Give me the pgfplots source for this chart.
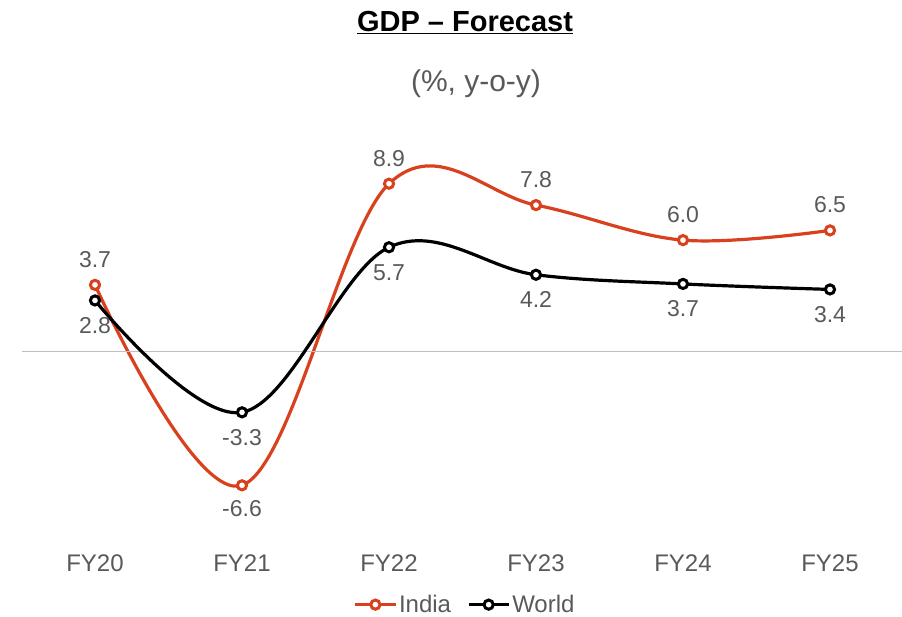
\documentclass[border=0pt]{standalone}
\usepackage{pgfplots}
\pgfplotsset{compat=1.18}
\usepackage{fontspec}
\setmainfont{Liberation Sans}
\definecolor{indiac}{HTML}{D9411E}
\definecolor{txtgray}{HTML}{595959}
\definecolor{zerogray}{HTML}{BFBFBF}
\tikzset{
  lbl/.style={font=\fontsize{23}{26}\selectfont, text=txtgray, anchor=center, inner sep=0pt},
  tlbl/.style={font=\fontsize{24}{27}\selectfont, text=txtgray, anchor=center, inner sep=0pt},
  indiastyle/.style={color=indiac, mark=*, mark size=4.6pt, mark options={fill=white, draw=indiac, line width=3pt}},
  worldstyle/.style={color=black, mark=*, mark size=4.6pt, mark options={fill=white, draw=black, line width=3pt}},
}
\pgfplotsset{
  base/.style={
    at={(21.5pt,67pt)}, anchor=south west,
    scale only axis, width=882pt, height=387.6pt,
    xmin=-0.5, xmax=5.5,
    axis lines=none, xtick=\empty, ytick=\empty, clip=false,
    every axis plot/.append style={line width=3.2pt, smooth, tension=0.6},
  },
}
\begin{document}
\begin{tikzpicture}[x=1pt,y=1pt]
\useasboundingbox (0,0) rectangle (902,617);
\node[font=\fontsize{29}{32}\selectfont\bfseries] at (465,594) {\underline{GDP -- Forecast}};
\node[font=\fontsize{30}{34}\selectfont, text=txtgray] at (476,533) {(\%, y-o-y)};
% India axis (secondary scale)
\begin{axis}[base, ymin=-9.923, ymax=9.995]
\addplot[indiastyle, nodes near coords, point meta=explicit symbolic,
  nodes near coords style={lbl, yshift=25.5pt}]
  coordinates {(0,3.7)[3.7] (1,-6.6)[] (2,8.9)[8.9] (3,7.8)[7.8] (4,6.0)[6.0] (5,6.5)[6.5]};
\addplot[draw=none, mark=none, nodes near coords, point meta=explicit symbolic,
  nodes near coords style={lbl, yshift=-23.5pt}, forget plot]
  coordinates {(1,-6.6)[-6.6]};
\end{axis}
% World axis (primary scale)
\begin{axis}[base, ymin=-10.807, ymax=10.327,
  legend style={at={(0.503,-0.141)}, anchor=center, draw=none, fill=none, legend columns=2,
    font=\fontsize{24}{27}\selectfont, text=txtgray, inner sep=0pt,
    /tikz/every even column/.append style={column sep=14pt},
    /tikz/every odd column/.append style={column sep=0pt}},
  legend cell align=left,
  legend image code/.code={\draw[#1, mark repeat=2, mark phase=2] plot coordinates {(0pt,0pt) (20pt,0pt) (40pt,0pt)};},
]
\draw[zerogray, line width=1pt] (axis cs:-0.5,0) -- (axis cs:5.5,0);
\node[tlbl] at (axis cs:0,-11.53) {FY20};
\node[tlbl] at (axis cs:1,-11.53) {FY21};
\node[tlbl] at (axis cs:2,-11.53) {FY22};
\node[tlbl] at (axis cs:3,-11.53) {FY23};
\node[tlbl] at (axis cs:4,-11.53) {FY24};
\node[tlbl] at (axis cs:5,-11.53) {FY25};
\addlegendimage{indiastyle, line width=3.2pt}
\addlegendentry{India}
\addplot[worldstyle, nodes near coords, point meta=explicit symbolic,
  nodes near coords style={lbl, yshift=-25pt}]
  coordinates {(0,2.8)[2.8] (1,-3.3)[-3.3] (2,5.7)[5.7] (3,4.2)[4.2] (4,3.7)[3.7] (5,3.4)[3.4]};
\addlegendentry{World}
\end{axis}
\end{tikzpicture}
\end{document}
